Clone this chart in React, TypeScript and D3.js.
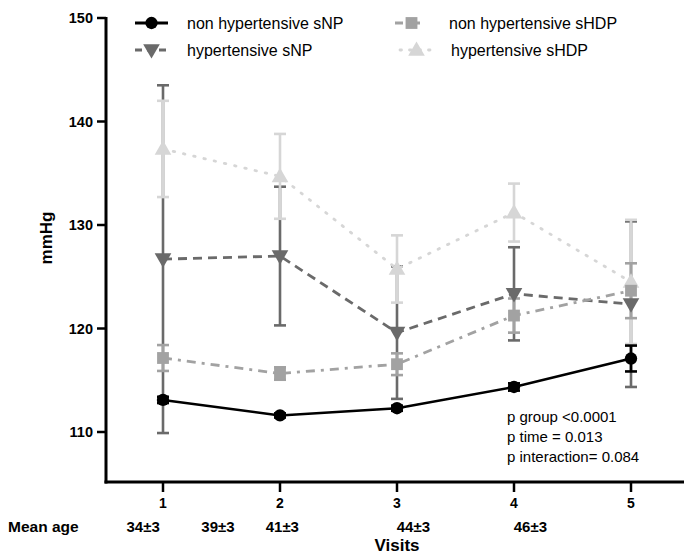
import React from "react";
import * as d3 from "d3";

// Visit numbers on the x axis
const visits = [1, 2, 3, 4, 5];
const yTicks = [110, 120, 130, 140, 150];

// Mean ± SEM blood pressure (mmHg) per group and visit
const nonHypSNP = [113.1, 111.6, 112.3, 114.35, 117.1];
const nonHypSNPErr = [0.3, 0.2, 0.25, 0.35, 1.25];
const hypSNP = [126.7, 127.0, 119.6, 123.35, 122.35];
const hypSNPErr = [16.8, 6.7, 6.4, 4.5, 8.0];
const nonHypSHDP = [117.15, 115.65, 116.55, 121.25, 123.65];
const nonHypSHDPErr = [1.25, 0.6, 1.05, 1.65, 2.65];
const hypSHDP = [137.35, 134.7, 125.75, 131.2, 124.5];
const hypSHDPErr = [4.65, 4.1, 3.25, 2.8, 6.0];

// Mean age labels under the axis (label, x position in visit units)
const ageLabels = ["34±3", "39±3", "41±3", "44±3", "46±3"];
const agePositions = [0.83, 1.47, 2.02, 3.14, 4.14];

const stats = ["p group <0.0001", "p time = 0.013", "p interaction= 0.084"];

type Series = {
  name: string;
  values: number[];
  err: number[];
  color: string;
  dash: string | null;
  symbol: "circle" | "down" | "square" | "up";
};

const series: Series[] = [
  { name: "hypertensive sNP", values: hypSNP, err: hypSNPErr, color: "#6a6a6a", dash: "9,6", symbol: "down" },
  { name: "hypertensive sHDP", values: hypSHDP, err: hypSHDPErr, color: "#d6d6d6", dash: "1.5,9", symbol: "up" },
  { name: "non hypertensive sHDP", values: nonHypSHDP, err: nonHypSHDPErr, color: "#a2a2a2", dash: "9,6,3,6", symbol: "square" },
  { name: "non hypertensive sNP", values: nonHypSNP, err: nonHypSNPErr, color: "#000000", dash: null, symbol: "circle" },
];

const FONT = "'Liberation Sans', Arial, sans-serif";

const x = d3.scaleLinear().domain([1, 5]).range([163, 631]);
const y = d3.scaleLinear().domain([110, 150]).range([432, 18]);

const axisLeft = 106;
const axisBottom = 482;

function Marker({ s, cx, cy, size = 1 }: { s: Series; cx: number; cy: number; size?: number }) {
  const symType =
    s.symbol === "circle" ? d3.symbolCircle : s.symbol === "square" ? d3.symbolSquare : d3.symbolTriangle;
  const area = s.symbol === "circle" ? 120 : s.symbol === "square" ? 140 : 120;
  const path = d3.symbol().type(symType).size(area * size)() as string;
  const rot = s.symbol === "down" ? 180 : 0;
  const dy = s.symbol === "down" ? -1 : s.symbol === "up" ? 1 : 0;
  return <path d={path} transform={`translate(${cx},${cy + dy}) rotate(${rot})`} fill={s.color} />;
}

export default function App() {
  const line = d3
    .line<number>()
    .x((_, i) => x(visits[i]))
    .y((d) => y(d));

  const legend = [
    { s: series[3], lx: 135, ly: 23, tx: 187 },
    { s: series[0], lx: 135, ly: 50, tx: 187 },
    { s: series[2], lx: 395, ly: 23, tx: 449 },
    { s: series[1], lx: 400, ly: 50, tx: 451 },
  ];

  return (
    <svg
      width={684}
      height={554}
      style={{ position: "fixed", left: 0, top: 0, background: "#fff", fontFamily: FONT }}
    >
      <rect width={684} height={554} fill="#fff" />

      {/* y axis */}
      <line x1={axisLeft} x2={axisLeft} y1={y(150) - 1} y2={axisBottom + 1.5} stroke="#000" strokeWidth={3} />
      {yTicks.map((t) => (
        <g key={t}>
          <line x1={axisLeft - 9} x2={axisLeft} y1={y(t)} y2={y(t)} stroke="#000" strokeWidth={2.5} />
          <text x={axisLeft - 13} y={y(t)} dy="0.35em" textAnchor="end" fontSize={14.5} fontWeight="bold">
            {t}
          </text>
        </g>
      ))}
      <text
        transform={`translate(52,238) rotate(-90)`}
        textAnchor="middle"
        fontSize={17}
        fontWeight="bold"
      >
        mmHg
      </text>

      {/* x axis */}
      <line x1={axisLeft - 1.5} x2={684} y1={axisBottom} y2={axisBottom} stroke="#000" strokeWidth={3} />
      {visits.map((v) => (
        <g key={v}>
          <line x1={x(v)} x2={x(v)} y1={axisBottom} y2={axisBottom + 10} stroke="#000" strokeWidth={2.5} />
          <text x={x(v)} y={503} dy="0.35em" textAnchor="middle" fontSize={14} fontWeight="bold">
            {v}
          </text>
        </g>
      ))}
      <text x={8} y={527} dy="0.35em" fontSize={15.5} fontWeight="bold">
        Mean age
      </text>
      {ageLabels.map((a, i) => (
        <text key={a} x={x(agePositions[i])} y={527} dy="0.35em" textAnchor="middle" fontSize={15} fontWeight="bold">
          {a}
        </text>
      ))}
      <text x={397} y={545} dy="0.35em" textAnchor="middle" fontSize={17} fontWeight="bold">
        Visits
      </text>

      {/* error bars */}
      {series.map((s) =>
        s.values.map((v, i) => {
          const cx = x(visits[i]);
          const top = y(v + s.err[i]);
          const bot = y(v - s.err[i]);
          return (
            <g key={s.name + i} stroke={s.color} strokeWidth={2.6}>
              <line x1={cx} x2={cx} y1={top} y2={bot} />
              <line x1={cx - 6} x2={cx + 6} y1={top} y2={top} />
              <line x1={cx - 6} x2={cx + 6} y1={bot} y2={bot} />
            </g>
          );
        })
      )}

      {/* connecting lines */}
      {series.map((s) => (
        <path
          key={s.name}
          d={line(s.values) as string}
          fill="none"
          stroke={s.color}
          strokeWidth={s.symbol === "circle" ? 2.6 : 2.8}
          strokeDasharray={s.dash ?? undefined}
          strokeLinecap={s.symbol === "up" ? "round" : "butt"}
        />
      ))}

      {/* markers */}
      {series.map((s) =>
        s.values.map((v, i) => <Marker key={s.name + "m" + i} s={s} cx={x(visits[i])} cy={y(v)} />)
      )}

      {/* legend */}
      {legend.map(({ s, lx, ly, tx }) => (
        <g key={s.name}>
          <line
            x1={lx}
            x2={lx + 33}
            y1={ly}
            y2={ly}
            stroke={s.color}
            strokeWidth={2.8}
            strokeDasharray={s.dash ? (s.symbol === "up" ? "1.5,8" : s.symbol === "down" ? "7,5" : "8,9") : undefined}
            strokeLinecap={s.symbol === "up" ? "round" : "butt"}
          />
          <Marker s={s} cx={lx + 16.5} cy={ly} />
          <text x={tx} y={ly} dy="0.35em" fontSize={16}>
            {s.name}
          </text>
        </g>
      ))}

      {/* statistics */}
      {stats.map((t, i) => (
        <text key={t} x={507} y={417 + i * 20} dy="0.35em" fontSize={15}>
          {t}
        </text>
      ))}
    </svg>
  );
}
